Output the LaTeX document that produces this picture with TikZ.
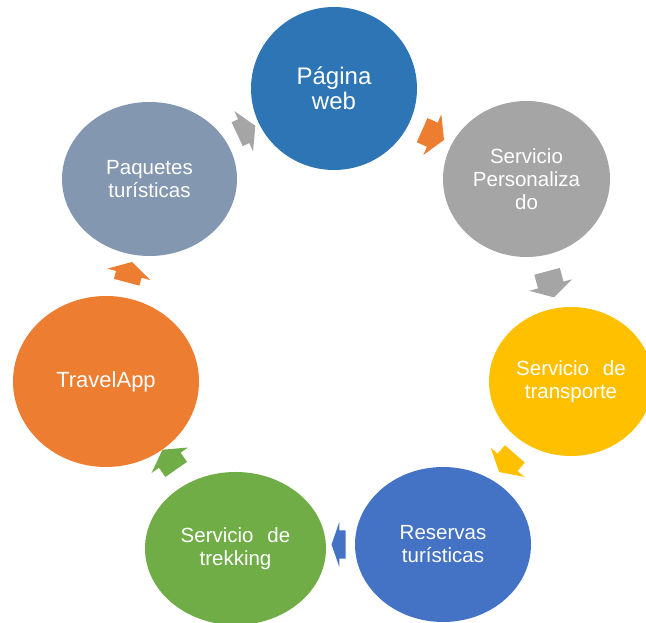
\documentclass[tikz,border=0pt]{standalone}
\usepackage{fontspec}
\setmainfont{Liberation Sans}
\usetikzlibrary{shapes.geometric,shapes.arrows,positioning}
\definecolor{webblue}{HTML}{2E75B6}
\definecolor{grisc}{HTML}{A5A5A5}
\definecolor{amarillo}{HTML}{FFC000}
\definecolor{azul}{HTML}{4472C4}
\definecolor{verde}{HTML}{70AD47}
\definecolor{naranja}{HTML}{ED7D31}
\definecolor{pizarra}{HTML}{8497B0}

\begin{document}
\begin{tikzpicture}[x=1pt,y=1pt,
  bubble/.style={ellipse,inner sep=0pt,text=white,align=center,font=\fontsize{20.5}{23}\selectfont},
  cyc/.style={single arrow,inner xsep=0pt,inner ysep=13pt,single arrow head extend=9pt,single arrow tip angle=120}]
\useasboundingbox (0,0) rectangle (646,623);
\clip (0,0) rectangle (646,623);
% arrows between the steps
\node (a1) [cyc,fill=naranja,minimum height=24pt,rotate=-24] at (429.6,489.5) {};
\node (a2) [cyc,fill=grisc,minimum height=27pt,rotate=-75] at (549.6,342.3) {};
\node (a3) [cyc,fill=amarillo,minimum height=24pt,rotate=-131] at (509.5,162.9) {};
\node (a4) [cyc,fill=azul,minimum height=14pt,inner ysep=14pt,single arrow head extend=8.5pt,single arrow tip angle=142,rotate=180] at (341,78.5) {};
\node (a5) [cyc,fill=verde,minimum height=24pt,rotate=125] at (171.5,160.3) {};
\node (a6) [cyc,fill=naranja,minimum height=21pt,rotate=75] at (128.4,347.2) {};
\node (a7) [cyc,fill=grisc,minimum height=20pt,rotate=25] at (242.8,491.4) {};
% steps
\node (web) [bubble,fill=webblue,minimum width=166pt,minimum height=163pt,font=\fontsize{24}{25}\selectfont] at (334,534.5) {Página\\web};
\node (pers) [bubble,fill=grisc,minimum width=167pt,minimum height=156pt] at (526.5,444) {Servicio\\Personaliza\\do};
\node (trans) [bubble,fill=amarillo,minimum width=164pt,minimum height=149pt] at (571,241.5) {Servicio\hspace{0.4em} de\\transporte};
\node (res) [bubble,fill=azul,minimum width=176pt,minimum height=155pt] at (443,78.5) {Reservas\\turísticas};
\node (trek) [bubble,fill=verde,minimum width=181pt,minimum height=153pt] at (235.5,74.5) {Servicio\hspace{0.4em} de\\trekking};
\node (app) [bubble,fill=naranja,minimum width=186pt,minimum height=171pt,font=\fontsize{22}{24}\selectfont] at (106,241.5) {TravelApp};
\node (paq) [bubble,fill=pizarra,minimum width=175pt,minimum height=154pt] at (149.5,444) {Paquetes\\turísticas};
\end{tikzpicture}
\end{document}
